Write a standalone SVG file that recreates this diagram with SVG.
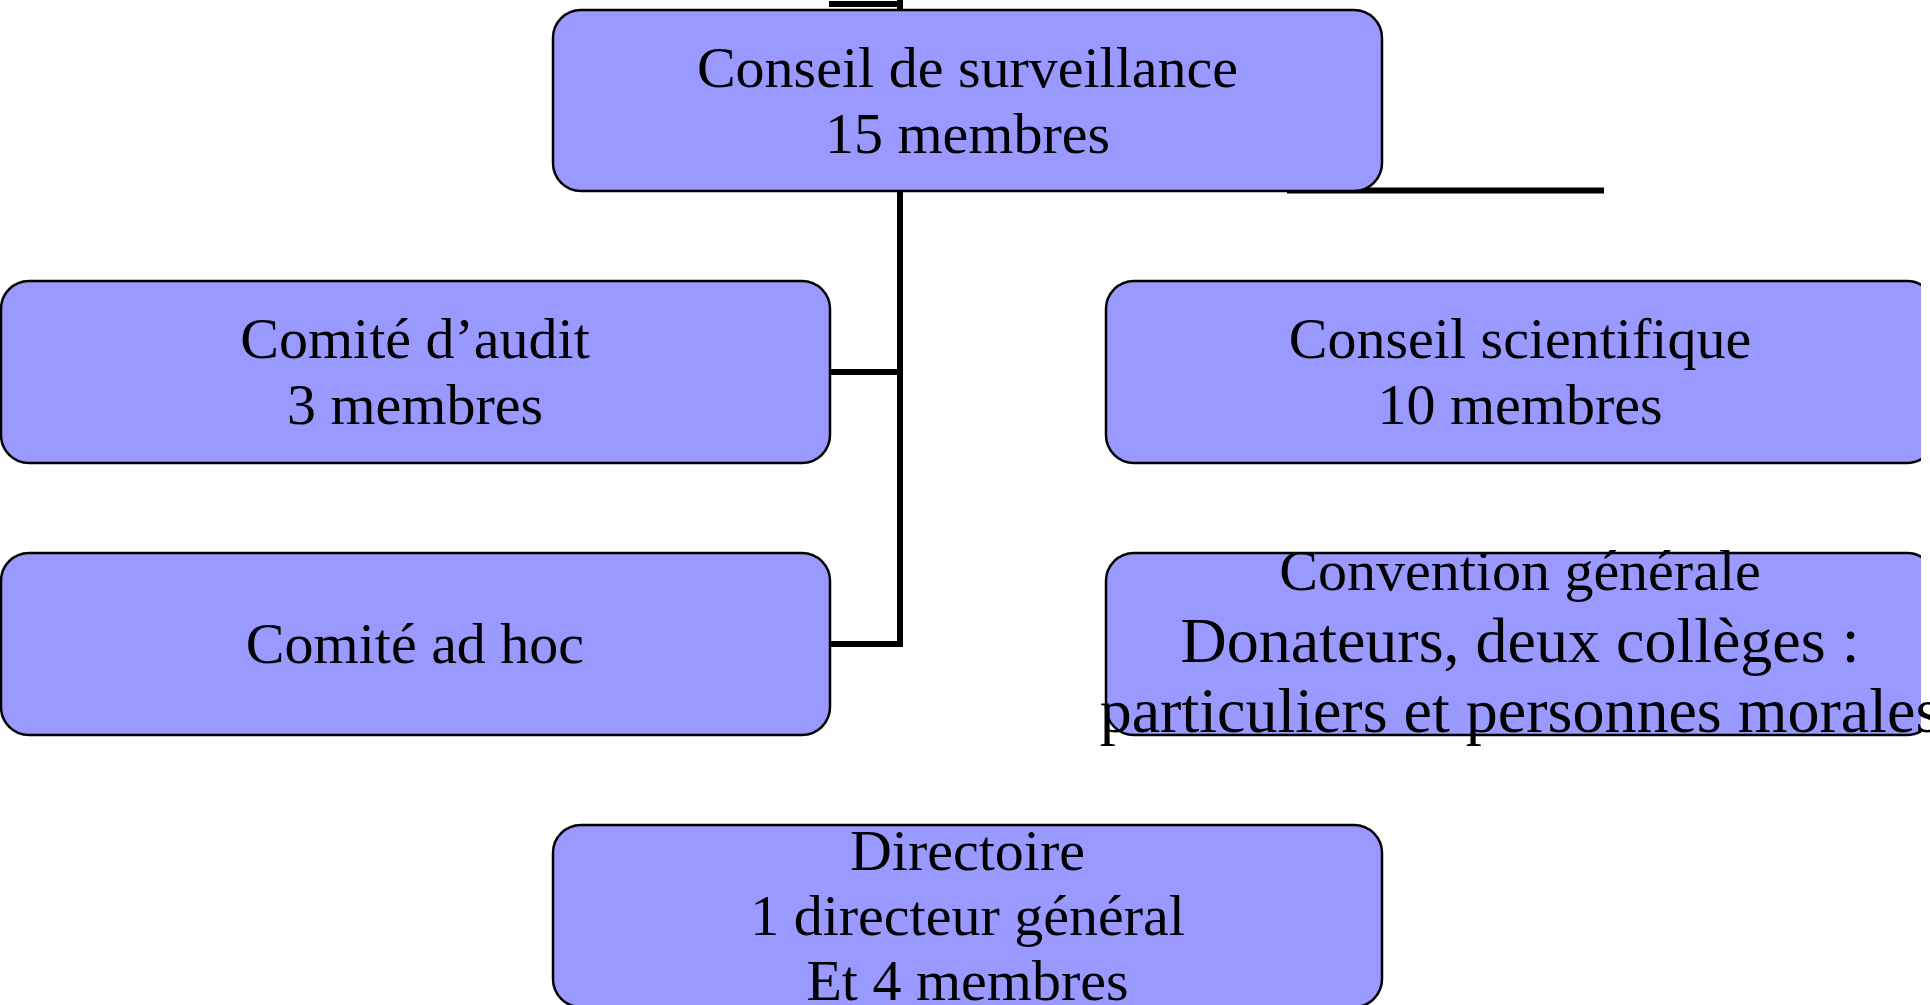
<svg xmlns="http://www.w3.org/2000/svg" width="1930" height="1005" viewBox="0 0 1930 1005">
<style>
.box{fill:#9999ff;stroke:#000;stroke-width:2.5}
.t{font-family:"Liberation Serif","Times New Roman",serif;font-size:58px;fill:#000;text-anchor:middle}
.big{font-size:64px}
.ln{fill:none;stroke:#000;stroke-width:6}
</style>
<defs>
<clipPath id="rclip"><rect x="1090" y="0" width="831" height="1005"/></clipPath>
</defs>
<rect width="1930" height="1005" fill="#fff"/>
<g id="connectors">
<path class="ln" d="M829,4 H900 M900,0 V10"/>
<path class="ln" d="M831,372 H900 M900,191 V644 H831"/>
<path class="ln" d="M1287,190.5 H1604"/>
</g>
<g id="conseil-surveillance">
<rect class="box" x="553" y="10" width="829" height="181" rx="28"/>
<text class="t" x="967.5" y="87">Conseil de surveillance</text>
<text class="t" x="967.5" y="153">15 membres</text>
</g>
<g id="comite-audit">
<rect class="box" x="1" y="281" width="829" height="182" rx="28"/>
<text class="t" x="415" y="358">Comité d’audit</text>
<text class="t" x="415" y="424">3 membres</text>
</g>
<g id="comite-ad-hoc">
<rect class="box" x="1" y="553" width="829" height="182" rx="28"/>
<text class="t" x="415" y="663">Comité ad hoc</text>
</g>
<g id="conseil-scientifique">
<rect class="box" x="1106" y="281" width="829" height="182" rx="28" clip-path="url(#rclip)"/>
<text class="t" x="1520" y="358">Conseil scientifique</text>
<text class="t" x="1520" y="424">10 membres</text>
</g>
<g id="convention-generale">
<rect class="box" x="1106" y="553" width="829" height="182" rx="28" clip-path="url(#rclip)"/>
<text class="t" x="1520" y="590">Convention générale</text>
<text class="t big" x="1520" y="662">Donateurs, deux collèges :</text>
<text class="t big" x="1520" y="732">particuliers et personnes morales</text>
</g>
<g id="directoire">
<rect class="box" x="553" y="825" width="829" height="182" rx="28"/>
<text class="t" x="967.5" y="870">Directoire</text>
<text class="t" x="967.5" y="935">1 directeur général</text>
<text class="t" x="967.5" y="1000">Et 4 membres</text>
</g>
</svg>
